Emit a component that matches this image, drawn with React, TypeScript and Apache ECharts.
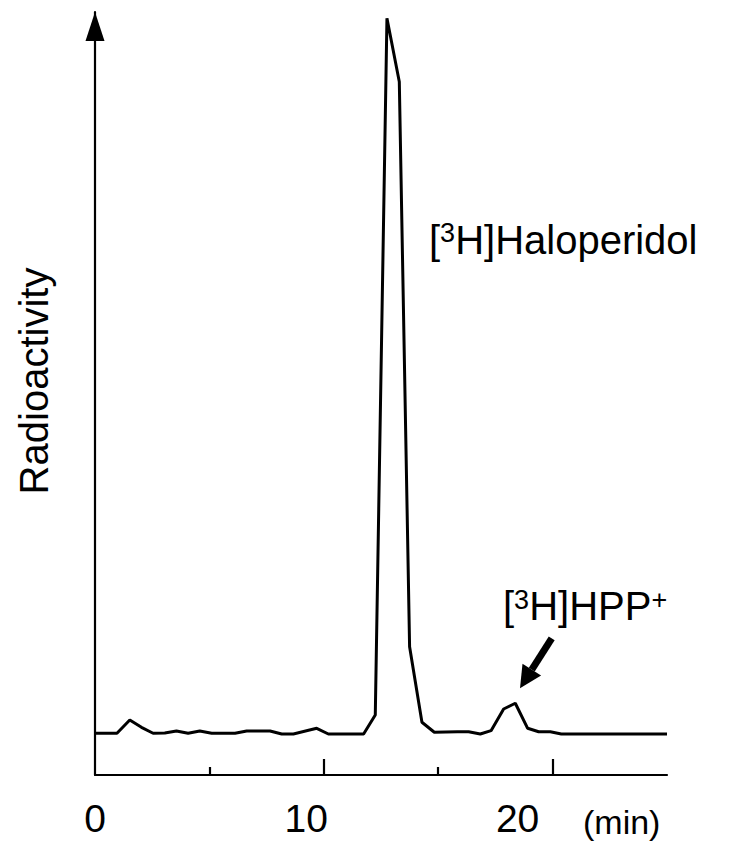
import React, { useEffect, useRef } from "react";
import * as echarts from "echarts";

// Retention time (min) of each vertex of the radio-chromatogram trace
const timeMin = [
  0, 0.96, 1.52, 2.03, 2.54, 3.05, 3.56, 4.07, 4.58, 5.1, 6.12, 6.63, 7.65, 8.16,
  8.67, 9.69, 10.2, 11.74, 12.25, 12.76, 13.3, 13.75, 14.29, 14.83, 15.84, 16.33,
  16.84, 17.31, 17.86, 18.37, 18.91, 19.39, 19.9, 20.38, 25.0,
];
// Radioactivity (arbitrary units, % of axis height)
const radioactivity = [
  5.47, 5.47, 7.21, 6.25, 5.47, 5.5, 5.77, 5.47, 5.77, 5.47, 5.47, 5.77, 5.77, 5.37,
  5.37, 6.12, 5.37, 5.37, 7.86, 99.17, 90.86, 16.82, 6.91, 5.6, 5.67, 5.67,
  5.37, 5.81, 8.65, 9.4, 6.12, 5.67, 5.67, 5.37, 5.37,
];
const xLabelValues = [0, 10, 20];
const majorTickValues = [10, 20];
const minorTickValues = [5, 15];

const FONT = "'Liberation Sans', Arial, Helvetica, sans-serif";

export default function App() {
  const ref = useRef<HTMLDivElement>(null);
  useEffect(() => {
    const chart = echarts.init(ref.current!, null, { renderer: "svg" });
    const data = timeMin.map((t, i) => [t, radioactivity[i]]);
    const axisColor = "#000";
    const supRich = {
      b: { fontSize: 40, fontFamily: FONT, fill: "#000", lineHeight: 40 },
      s: { fontSize: 27, fontFamily: FONT, fill: "#000", lineHeight: 27, verticalAlign: "top" },
    };
    chart.setOption({
      animation: false,
      backgroundColor: "#ffffff",
      grid: {
        left: 95,
        right: 70,
        top: 12,
        bottom: 66,
        containLabel: false,
        outerBoundsMode: "none",
      },
      xAxis: [
        {
          type: "value",
          min: 0,
          max: 25,
          axisLine: { show: true, onZero: false, lineStyle: { color: axisColor, width: 2.2 } },
          axisTick: {
            show: true,
            inside: true,
            length: 16,
            customValues: majorTickValues,
            lineStyle: { color: axisColor, width: 2.2 },
          },
          axisLabel: {
            show: true,
            customValues: xLabelValues,
            margin: 25.5,
            color: "#000",
            fontSize: 39,
            fontFamily: FONT,
            formatter: (v: number) =>
              v === 0 ? "{a|0}" : v === 10 ? "{b|10}" : "{c|20}",
            rich: {
              a: { fontSize: 39, fontFamily: FONT, color: "#000", lineHeight: 36 },
              b: { fontSize: 39, fontFamily: FONT, color: "#000", lineHeight: 36, padding: [0, 35, 0, 0] },
              c: { fontSize: 39, fontFamily: FONT, color: "#000", lineHeight: 36, padding: [0, 70, 0, 0] },
            },
          },
          splitLine: { show: false },
        },
        {
          type: "value",
          min: 0,
          max: 25,
          position: "bottom",
          axisLine: { show: false, onZero: false },
          axisTick: {
            show: true,
            inside: true,
            length: 8,
            customValues: minorTickValues,
            lineStyle: { color: axisColor, width: 2.2 },
          },
          axisLabel: { show: false },
          splitLine: { show: false },
        },
      ],
      yAxis: {
        type: "value",
        min: 0,
        max: 100,
        axisLine: {
          show: true,
          onZero: false,
          lineStyle: { color: axisColor, width: 2.2 },
          symbol: ["none", "triangle"],
          symbolSize: [19, 29],
          symbolOffset: [0, -14.5],
        },
        axisTick: { show: false },
        axisLabel: { show: false },
        splitLine: { show: false },
      },
      series: [
        {
          type: "line",
          xAxisIndex: 0,
          data,
          symbol: "none",
          showSymbol: false,
          clip: false,
          lineStyle: { color: "#000", width: 3 },
        },
      ],
      graphic: [
        {
          type: "text",
          x: 34.4,
          y: 381,
          rotation: Math.PI / 2,
          style: {
            text: "Radioactivity",
            fill: "#000",
            fontSize: 40,
            fontFamily: FONT,
            align: "center",
            verticalAlign: "middle",
          },
        },
        {
          type: "text",
          x: 429,
          y: 219.6,
          style: {
            text: "{b|[}{s|3}{b|H]Haloperidol}",
            align: "left",
            verticalAlign: "top",
            fill: "#000",
            rich: supRich,
          },
        },
        {
          type: "text",
          x: 503,
          y: 586,
          style: {
            text: "{b|[}{s|3}{b|H]HPP}{s|+}",
            align: "left",
            verticalAlign: "top",
            fill: "#000",
            rich: supRich,
          },
        },
        {
          type: "line",
          shape: { x1: 551.7, y1: 638.3, x2: 531.8, y2: 669.7 },
          style: { stroke: "#000", lineWidth: 7 },
        },
        {
          type: "polygon",
          shape: {
            points: [
              [520, 688.3],
              [541.1, 675.6],
              [522.5, 663.8],
            ],
          },
          style: { fill: "#000" },
        },
        {
          type: "text",
          x: 583,
          y: 821.5,
          style: {
            text: "(min)",
            fill: "#000",
            fontSize: 34,
            fontFamily: FONT,
            align: "left",
            verticalAlign: "middle",
          },
        },
      ],
    });
    return () => chart.dispose();
  }, []);
  return (
    <div
      ref={ref}
      style={{ position: "fixed", left: 0, top: 0, width: 737, height: 841, background: "#fff" }}
    />
  );
}
